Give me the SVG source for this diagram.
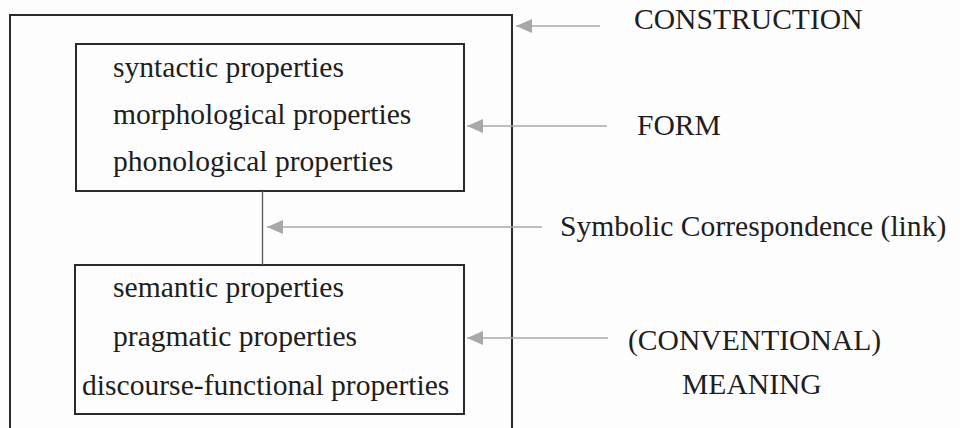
<svg xmlns="http://www.w3.org/2000/svg" width="960" height="428" viewBox="0 0 960 428">
  <style>
    .box { fill: none; stroke: #2b2b2b; stroke-width: 2; }
    .t { font-family: "Liberation Serif", "Times New Roman", serif; font-size: 29.6px; fill: #1e1e1e; }
    .arrow { stroke: #a8a8a8; stroke-width: 1.5; fill: none; marker-end: url(#head); }
    .link { stroke: #555; stroke-width: 1.3; fill: none; }
  </style>
  <defs>
    <marker id="head" markerUnits="userSpaceOnUse" markerWidth="18" markerHeight="14" refX="16" refY="7" orient="auto">
      <path d="M0,0 L16,7 L0,14 Z" fill="#a8a8a8"/>
    </marker>
  </defs>
  <rect width="960" height="428" fill="#fdfdfd"/>

  <g id="construction">
    <rect class="box" x="10" y="15" width="502" height="430"/>
  </g>

  <g id="form">
    <rect class="box" x="76" y="44" width="388" height="147"/>
    <text class="t" x="113" y="77">syntactic properties</text>
    <text class="t" x="113" y="124">morphological properties</text>
    <text class="t" x="113" y="171">phonological properties</text>
  </g>

  <g id="meaning">
    <rect class="box" x="75" y="265" width="389" height="149"/>
    <text class="t" x="113" y="297">semantic properties</text>
    <text class="t" x="113" y="346">pragmatic properties</text>
    <text class="t" x="82" y="395">discourse-functional properties</text>
  </g>

  <g id="connectors">
    <line class="link" x1="262.5" y1="191" x2="262.5" y2="265"/>
    <line class="arrow" x1="600" y1="26" x2="516" y2="26"/>
    <line class="arrow" x1="607" y1="126" x2="467" y2="126"/>
    <line class="arrow" x1="542" y1="227" x2="267" y2="227"/>
    <line class="arrow" x1="608" y1="338" x2="467" y2="338"/>
  </g>

  <g id="label-construction">
    <text class="t" x="634" y="29">CONSTRUCTION</text>
  </g>
  <g id="label-form">
    <text class="t" x="637" y="135">FORM</text>
  </g>
  <g id="label-symbolic">
    <text class="t" x="560" y="236">Symbolic Correspondence (link)</text>
  </g>
  <g id="label-meaning">
    <text class="t" x="628" y="350">(CONVENTIONAL)</text>
    <text class="t" x="682" y="394">MEANING</text>
  </g>
</svg>
